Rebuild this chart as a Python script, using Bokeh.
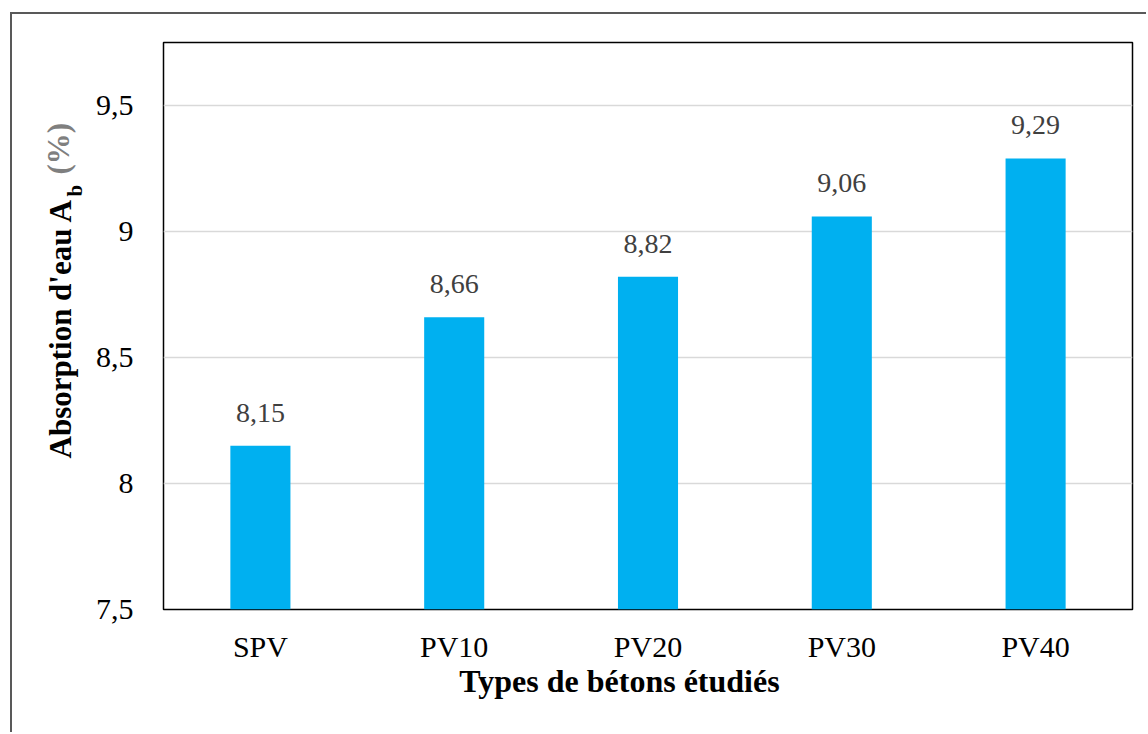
import math
from bokeh.plotting import figure
from bokeh.models import (ColumnDataSource, FactorRange, Range1d, FixedTicker,
                          LabelSet, Label)
from bokeh.embed import file_html
from bokeh.resources import INLINE

categories = ["SPV", "PV10", "PV20", "PV30", "PV40"]
absorption = [8.15, 8.66, 8.82, 9.06, 9.29]
y_ticks = [7.5, 8.0, 8.5, 9.0, 9.5]
y_tick_labels = ["7,5", "8", "8,5", "9", "9,5"]
x_title = "Types de bétons étudiés"
y_title_main = "Absorption d'eau A"
y_title_sub = "b"
y_title_unit = "(%)"

FONT = "Liberation Serif"
labels = [f"{v:.2f}".replace(".", ",") for v in absorption]
source = ColumnDataSource(dict(cat=categories, val=absorption, lab=labels))

W, H = 1136, 720
p = figure(width=W, height=H, x_range=FactorRange(*categories, range_padding=0),
           y_range=Range1d(7.5, 9.75), output_backend="svg", toolbar_location=None,
           min_border_left=151, min_border_right=16, min_border_top=28,
           min_border_bottom=125)
p.styles = {"position": "relative", "left": "12px", "top": "14px",
            "box-shadow": "-2px -2px 0px 0px #595959"}
p.outline_line_color = "black"
p.outline_line_width = 1.5
p.vbar(x="cat", top="val", bottom=7.5, width=0.31, source=source,
       fill_color="#00B0F0", line_color=None)
p.xgrid.grid_line_color = None
p.ygrid.grid_line_color = "#D9D9D9"
p.ygrid.grid_line_width = 1.5
p.yaxis.ticker = FixedTicker(ticks=y_ticks)
p.yaxis.major_label_overrides = {t: l for t, l in zip(y_ticks, y_tick_labels)}
for ax in (p.xaxis, p.yaxis):
    ax.axis_line_color = None
    ax.major_tick_line_color = None
    ax.minor_tick_line_color = None
    ax.major_tick_out = 0
    ax.major_tick_in = 0
    ax.major_label_text_font = FONT
    ax.major_label_text_font_size = "30px"
    ax.major_label_text_color = "black"
p.yaxis.major_label_standoff = 30
p.xaxis.major_label_standoff = 20

p.add_layout(LabelSet(x="cat", y="val", text="lab", source=source, y_offset=24,
                      text_align="center", text_baseline="alphabetic",
                      text_font=FONT, text_font_size="28px", text_color="#404040"))

# x title in the below panel
p.add_layout(Label(x=456, y=21, x_units="screen", y_units="screen", text=x_title,
                   text_align="center", text_baseline="alphabetic",
                   text_font=FONT, text_font_size="32px", text_font_style="bold",
                   text_color="black"), "below")

# y title pieces (rotated)
fs_main, fs_sub = 31, 21
x_main = 3
p.add_layout(Label(x=x_main, y=151, x_units="screen", y_units="screen", text=y_title_main,
                   angle=math.pi / 2, text_align="left", text_baseline="alphabetic",
                   text_font=FONT, text_font_size=f"{fs_main}px", text_font_style="bold",
                   text_color="black"), "left")
p.add_layout(Label(x=x_main + 33, y=435, x_units="screen", y_units="screen",
                   text=y_title_unit, angle=math.pi / 2, text_align="left",
                   text_baseline="alphabetic", text_font=FONT,
                   text_font_size=f"{fs_main}px", text_font_style="bold",
                   text_color="#7F7F7F"), "left")
p.add_layout(Label(x=-89, y=-154, x_units="screen", y_units="screen",
                   text=y_title_sub, angle=math.pi / 2, text_align="left",
                   text_baseline="alphabetic", text_font=FONT,
                   text_font_size=f"{fs_sub}px", text_font_style="bold",
                   text_color="black"), "above")

open("out.html", "w").write(file_html(p, INLINE))
